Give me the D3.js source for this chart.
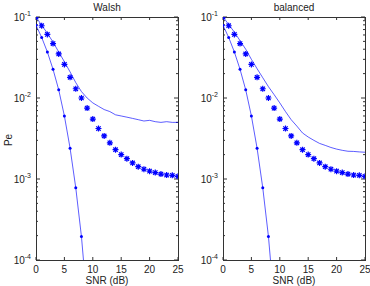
<!DOCTYPE html>
<html>
<head>
<meta charset="utf-8">
<title>Pe vs SNR</title>
<script src="https://d3js.org/d3.v7.min.js"></script>
<style>
  body { margin: 0; background: #fff; }
  text { font-family: "Liberation Sans", Arial, sans-serif; fill: #222; }
</style>
</head>
<body>
<script>
// SNR (dB) sample points
var snr = [0,1,2,3,4,5,6,7,8,9,10,11,12,13,14,15,16,17,18,19,20,21,22,23,24,25];
var snrDot = [0,1,2,3,4,5,6,7,8,9];

// Walsh panel
var walshLine = [0.1,0.079,0.063,0.049,0.037,0.028,0.021,0.0155,0.012,0.010,0.0087,0.0079,0.0072,0.0068,0.0062,0.0060,0.0058,0.0056,0.0054,0.0052,0.0053,0.0051,0.0050,0.0051,0.0050,0.0050];
var walshStar = [0.1,0.078,0.061,0.047,0.035,0.026,0.018,0.013,0.010,0.0075,0.0055,0.0042,0.0034,0.0028,0.0023,0.0020,0.00178,0.00158,0.00142,0.00132,0.00125,0.0012,0.00115,0.00112,0.00111,0.00108];
var walshDot = [0.079,0.056,0.037,0.0226,0.0126,0.006,0.0024,0.00078,0.000195,0.00003];

// balanced panel
var balancedLine = [0.1,0.081,0.065,0.051,0.040,0.030,0.023,0.0178,0.0138,0.011,0.0087,0.0068,0.0054,0.0045,0.0037,0.0033,0.0030,0.00275,0.0026,0.00245,0.00234,0.00226,0.0022,0.00219,0.00216,0.00214];
var balancedStar = [0.1,0.078,0.061,0.047,0.035,0.026,0.018,0.013,0.010,0.0075,0.0055,0.0042,0.0034,0.0028,0.0023,0.0020,0.00178,0.00158,0.00142,0.00132,0.00125,0.0012,0.00115,0.00112,0.00111,0.00108];
var balancedDot = [0.079,0.056,0.037,0.0226,0.0126,0.006,0.0024,0.00078,0.000195,0.00003];

var xTicks = [0,5,10,15,20,25];
var yTicks = [1e-1,1e-2,1e-3,1e-4];
var yExp = ["-1","-2","-3","-4"];

var panels = [
  { title: "Walsh", left: 36, line: walshLine, star: walshStar, dot: walshDot, ylabel: true },
  { title: "balanced", left: 223, line: balancedLine, star: balancedStar, dot: balancedDot, ylabel: false }
];

var W = 370, H = 286;
var plotTop = 17, plotBottom = 260, pw = 142;
var blue = "#0000ff";

var svg = d3.select("body").append("svg").attr("width", W).attr("height", H);

panels.forEach(function(p, i) {
  var x = d3.scaleLinear().domain([0, 25]).range([p.left, p.left + pw]);
  var y = d3.scaleLog().domain([1e-4, 1e-1]).range([plotBottom, plotTop]);
  var g = svg.append("g");

  g.append("clipPath").attr("id", "clip" + i)
    .append("rect").attr("x", p.left).attr("y", plotTop).attr("width", pw).attr("height", plotBottom - plotTop);

  // ticks inside the box
  var minor = [];
  [1e-4, 1e-3, 1e-2].forEach(function(d) {
    for (var k = 2; k <= 9; k++) minor.push(d * k);
  });
  minor.forEach(function(v) {
    g.append("line").attr("x1", p.left).attr("x2", p.left + 2).attr("y1", y(v)).attr("y2", y(v)).attr("stroke", "#333");
    g.append("line").attr("x1", p.left + pw).attr("x2", p.left + pw - 2).attr("y1", y(v)).attr("y2", y(v)).attr("stroke", "#333");
  });
  yTicks.forEach(function(v) {
    g.append("line").attr("x1", p.left).attr("x2", p.left + 4).attr("y1", y(v)).attr("y2", y(v)).attr("stroke", "#333");
    g.append("line").attr("x1", p.left + pw).attr("x2", p.left + pw - 4).attr("y1", y(v)).attr("y2", y(v)).attr("stroke", "#333");
  });
  xTicks.forEach(function(v) {
    g.append("line").attr("x1", x(v)).attr("x2", x(v)).attr("y1", plotBottom).attr("y2", plotBottom - 3).attr("stroke", "#333");
    g.append("line").attr("x1", x(v)).attr("x2", x(v)).attr("y1", plotTop).attr("y2", plotTop + 3).attr("stroke", "#333");
  });

  g.append("rect").attr("x", p.left + 0.5).attr("y", plotTop + 0.5).attr("width", pw).attr("height", plotBottom - plotTop)
    .attr("fill", "none").attr("stroke", "#333");

  // tick labels
  xTicks.forEach(function(v) {
    g.append("text").attr("x", x(v)).attr("y", 273).attr("text-anchor", "middle").attr("font-size", 10).text(v);
  });
  yTicks.forEach(function(v, j) {
    var t = g.append("text").attr("x", p.left - 5).attr("y", y(v) + 4).attr("text-anchor", "end").attr("font-size", 10);
    t.append("tspan").text("10");
    t.append("tspan").attr("font-size", 7).attr("dy", -5).text(yExp[j]);
  });

  g.append("text").attr("x", p.left + pw / 2).attr("y", 11).attr("text-anchor", "middle").attr("font-size", 10).text(p.title);
  g.append("text").attr("x", p.left + pw / 2).attr("y", 284).attr("text-anchor", "middle").attr("font-size", 10).text("SNR (dB)");
  if (p.ylabel) {
    g.append("text").attr("transform", "translate(12,140) rotate(-90)").attr("text-anchor", "middle").attr("font-size", 10).text("Pe");
  }

  var plot = g.append("g").attr("clip-path", "url(#clip" + i + ")");
  var line = d3.line().x(function(d) { return x(d[0]); }).y(function(d) { return y(d[1]); });

  // plain line
  plot.append("path").datum(snr.map(function(s, k) { return [s, p.line[k]]; }))
    .attr("d", line).attr("fill", "none").attr("stroke", blue).attr("stroke-width", 0.8).attr("stroke-opacity", 0.8);

  // asterisk markers
  var starPath = "M-3,0H3M0,-3V3M-2.2,-2.2L2.2,2.2M-2.2,2.2L2.2,-2.2";
  plot.selectAll(".star").data(snr.map(function(s, k) { return [s, p.star[k]]; }))
    .enter().append("path").attr("class", "star")
    .attr("transform", function(d) { return "translate(" + x(d[0]) + "," + y(d[1]) + ")"; })
    .attr("d", starPath).attr("fill", "none").attr("stroke", blue).attr("stroke-width", 1.2);

  // dotted line
  var dotData = snrDot.map(function(s, k) { return [s, p.dot[k]]; });
  plot.append("path").datum(dotData)
    .attr("d", line).attr("fill", "none").attr("stroke", blue).attr("stroke-width", 0.8).attr("stroke-opacity", 0.8);
  plot.selectAll(".dot").data(dotData).enter().append("circle").attr("class", "dot")
    .attr("cx", function(d) { return x(d[0]); }).attr("cy", function(d) { return y(d[1]); })
    .attr("r", 1.5).attr("fill", blue);
});
</script>
</body>
</html>
